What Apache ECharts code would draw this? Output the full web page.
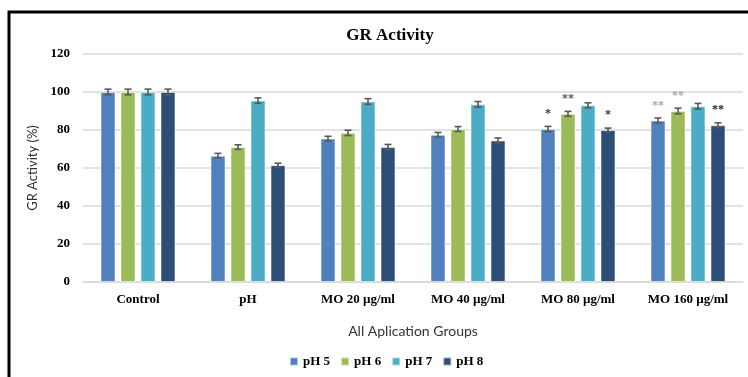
<!DOCTYPE html>
<html>
<head>
<meta charset="utf-8">
<script src="https://cdn.jsdelivr.net/npm/echarts@6/dist/echarts.min.js"></script>
<style>
  html, body { margin: 0; padding: 0; background: #fff; }
  #chart { width: 748px; height: 377px; }
</style>
</head>
<body>
<div id="chart"></div>
<script>
// Groups along the x axis
const categories = ['Control', 'pH', 'MO 20 µg/ml', 'MO 40 µg/ml', 'MO 80 µg/ml', 'MO 160 µg/ml'];
const seriesNames = ['pH 5', 'pH 6', 'pH 7', 'pH 8'];

// GR activity (%) per group
const ph5 = [100, 66.5, 75.5, 77.5, 80.5, 85];
const ph6 = [100, 71, 78.5, 80.5, 88.5, 90];
const ph7 = [100, 95.5, 95, 93.5, 93, 92.5];
const ph8 = [100, 61.5, 71, 74.5, 80, 82.5];

// Error (+/-) per bar
const err5 = [1.5, 1.2, 1.2, 1.2, 1.4, 1.3];
const err6 = [1.5, 1.2, 1.4, 1.3, 1.3, 1.5];
const err7 = [1.5, 1.4, 1.5, 1.5, 1.3, 1.5];
const err8 = [1.5, 1.0, 1.4, 1.3, 1.0, 1.3];

// Significance marks
const sig5 = ['', '', '', '', '*', '**'];
const sig6 = ['', '', '', '', '**', '**'];
const sig7 = ['', '', '', '', '', ''];
const sig8 = ['', '', '', '', '*', '**'];

// Y axis ticks
const yTicks = [0, 20, 40, 60, 80, 100, 120];

const values = [ph5, ph6, ph7, ph8];
const errors = [err5, err6, err7, err8];
const sigs = [sig5, sig6, sig7, sig8];

const colors = ['#4F81BD', '#9BBB59', '#4BACC6', '#2C4D75'];
// star colours: [series]-[category]
const sigColor = {
  '0-4': '#333333', '1-4': '#555555', '3-4': '#333333',
  '0-5': '#a6a6a6', '1-5': '#a6a6a6', '3-5': '#222222'
};

const BAR_W = 15;
const BAR_STEP = 20;
const serifBold = { fontFamily: '"Liberation Serif", "Times New Roman", serif', fontWeight: 'bold', color: '#000' };

const barSeries = seriesNames.map((name, si) => ({
  name: name,
  type: 'bar',
  barWidth: BAR_W,
  barGap: '33.3%',
  itemStyle: { color: colors[si], borderColor: 'rgba(255,255,255,0.55)', borderWidth: 1 },
  data: values[si],
  z: 2
}));

const errSeries = seriesNames.map((name, si) => ({
  type: 'custom',
  z: 5,
  silent: true,
  data: values[si].map((v, ci) => [ci, v, errors[si][ci]]),
  renderItem: function (params, api) {
    const ci = api.value(0), v = api.value(1), e = api.value(2);
    const mark = sigs[si][ci];
    const off = (si - 1.5) * BAR_STEP;
    const hi = api.coord([ci, v + e]);
    const lo = api.coord([ci, v - e]);
    const top = api.coord([ci, v]);
    const x = hi[0] + off;
    const cap = 3.5;
    const st = { stroke: '#595959', lineWidth: 1.6 };
    const children = [
      { type: 'line', shape: { x1: x, y1: hi[1], x2: x, y2: lo[1] }, style: st },
      { type: 'line', shape: { x1: x - cap, y1: hi[1], x2: x + cap, y2: hi[1] }, style: st },
      { type: 'line', shape: { x1: x - cap, y1: lo[1], x2: x + cap, y2: lo[1] }, style: st }
    ];
    if (mark) {
      children.push({
        type: 'text',
        style: {
          text: mark, x: x, y: top[1] - 15,
          align: 'center', verticalAlign: 'middle',
          fill: sigColor[si + '-' + ci] || '#333',
          font: 'bold 12px "Liberation Serif", serif'
        }
      });
    }
    return { type: 'group', children: children };
  }
}));

const chart = echarts.init(document.getElementById('chart'), null, { renderer: 'canvas' });
chart.setOption({
  animation: false,
  backgroundColor: '#fff',
  graphic: [{
    type: 'rect',
    shape: { x: 9, y: 12, width: 800, height: 420 },
    style: { fill: 'none', stroke: '#000', lineWidth: 3 },
    z: 100
  }],
  title: {
    text: 'GR Activity',
    left: 385, top: 22, textAlign: 'center',
    textStyle: Object.assign({}, serifBold, { fontSize: 17 })
  },
  legend: {
    data: seriesNames,
    left: 289, top: 355,
    icon: 'rect', itemWidth: 8, itemHeight: 8, itemGap: 10,
    textStyle: Object.assign({}, serifBold, { fontSize: 13 }),
    padding: 0
  },
  grid: { left: 83, right: 5, top: 54, bottom: 95 },
  xAxis: {
    type: 'category',
    data: categories,
    name: 'All Aplication Groups',
    nameLocation: 'middle',
    nameGap: 42,
    nameTextStyle: { fontFamily: 'Lato, "Open Sans", sans-serif', fontSize: 14, color: '#333' },
    axisLine: { lineStyle: { color: '#d9d9d9', width: 1.5 } },
    axisTick: { show: false },
    axisLabel: Object.assign({}, serifBold, { fontSize: 13, margin: 11, interval: 0 })
  },
  yAxis: {
    type: 'value',
    min: yTicks[0], max: yTicks[yTicks.length - 1], interval: yTicks[1] - yTicks[0],
    name: 'GR Activity (%)',
    nameLocation: 'middle',
    nameGap: 41,
    nameRotate: 90,
    nameTextStyle: { fontFamily: 'Lato, "Open Sans", sans-serif', fontSize: 13, color: '#333' },
    axisLine: { show: false },
    axisTick: { show: false },
    splitLine: { lineStyle: { color: '#d9d9d9', width: 1.5 } },
    axisLabel: Object.assign({}, serifBold, { fontSize: 13, margin: 13 })
  },
  series: barSeries.concat(errSeries)
});
</script>
</body>
</html>
